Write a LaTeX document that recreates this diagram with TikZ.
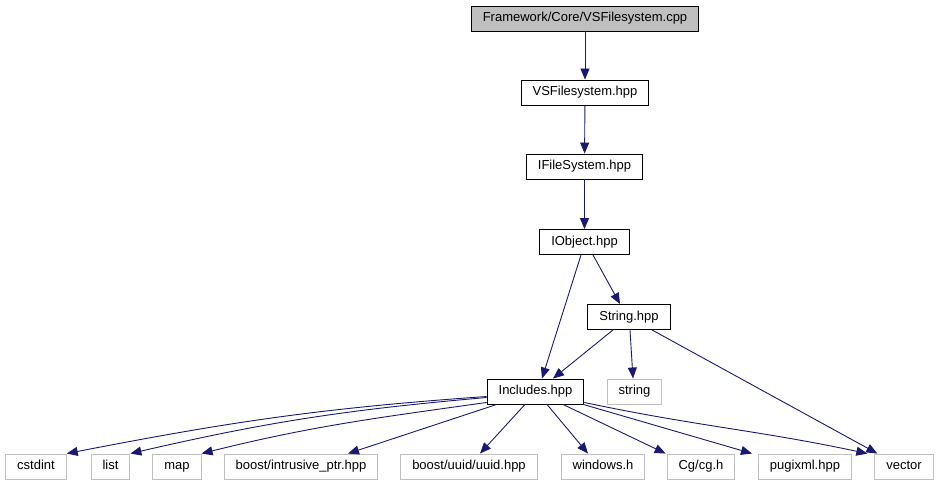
\documentclass[tikz,border=0pt]{standalone}
\usepackage{fontspec}
\setmainfont{Liberation Sans}
\usetikzlibrary{arrows.meta}

\definecolor{edgeblue}{HTML}{191970}
\definecolor{boxgray}{HTML}{BFBFBF}

\begin{document}
\begin{tikzpicture}[
    x=1pt, y=1pt,
    font=\fontsize{13pt}{15pt}\selectfont,
    file/.style  = {draw=black, line width=0.9pt, inner xsep=11.5pt, inner ysep=0pt,
                    minimum height=25pt, text height=9.5pt, text depth=2.8pt},
    root/.style  = {file, fill=boxgray},
    ext/.style   = {file, draw=boxgray},
    arrow/.style = {-{Triangle[length=11pt, width=9pt]}, draw=edgeblue, line width=0.9pt}
]
\useasboundingbox (0,0) rectangle (937,485);

%% ── Cadena principal ────────────────────────────────────────────────────────
\node[root] (cpp)  at (585,466.5)   {Framework/Core/VSFilesystem.cpp};
\node[file] (vsfs) at (585,392.5)   {VSFilesystem.hpp};
\node[file] (ifs)  at (584.5,318.5) {IFileSystem.hpp};
\node[file] (iobj) at (584.5,243)   {IObject.hpp};
\node[file] (strh) at (629,168)     {String.hpp};
\node[file] (inc)  at (535.5,93.5)  {Includes.hpp};
\node[ext]  (strstd) at (634.5,93.5) {string};

%% ── Cabeceras externas ──────────────────────────────────────────────────────
\node[ext] (cstd)  at (36,18.5)  {cstdint};
\node[ext] (lst)   at (110.5,18.5) {list};
\node[ext] (mp)    at (177,18.5) {map};
\node[ext] (intr)  at (301,18.5) {boost/intrusive\_ptr.hpp};
\node[ext] (uuid)  at (469,18.5) {boost/uuid/uuid.hpp};
\node[ext] (win)   at (603,18.5) {windows.h};
\node[ext] (cg)    at (701,18.5) {Cg/cg.h};
\node[ext] (pxml)  at (805,18.5) {pugixml.hpp};
\node[ext] (vec)   at (904,18.5) {vector};

%% ── Dependencias ────────────────────────────────────────────────────────────
\draw[arrow] (cpp) -- (vsfs);
\draw[arrow] (vsfs) -- (ifs);
\draw[arrow] (ifs) -- (iobj);
\draw[arrow] ([xshift=-3.5pt]iobj.south) -- ([xshift=6.5pt]inc.north);
\draw[arrow] ([xshift=8.5pt]iobj.south) -- ([xshift=-9pt]strh.north);
\draw[arrow] ([xshift=-16pt]strh.south) -- ([xshift=17.5pt]inc.north);
\draw[arrow] ([xshift=1pt]strh.south) -- ([xshift=-1.5pt]strstd.north);
\draw[arrow] ([xshift=23pt]strh.south) -- ([xshift=3pt]vec.north west);

\draw[arrow] ([yshift=-5pt]inc.west) to[out=184, in=11] (cstd.north east);
\draw[arrow] ([yshift=-6pt]inc.west) to[out=185, in=13] (lst.north east);
\draw[arrow] ([yshift=2pt]inc.south west) to[out=188, in=14] (mp.north east);
\draw[arrow] ([xshift=10pt]inc.south west) -- ([xshift=47pt]intr.north);
\draw[arrow] ([xshift=-10.5pt]inc.south) -- ([xshift=11pt]uuid.north);
\draw[arrow] ([xshift=11.5pt]inc.south) -- ([xshift=-15pt]win.north);
\draw[arrow] ([xshift=27.5pt]inc.south) -- ([xshift=-1pt]cg.north west);
\draw[arrow] ([xshift=-1pt]inc.south east) -- ([xshift=-6pt]pxml.north west);
\draw[arrow] ([yshift=2pt]inc.south east) to[out=-12, in=168] ([xshift=-7pt]vec.north west);

\end{tikzpicture}
\end{document}
